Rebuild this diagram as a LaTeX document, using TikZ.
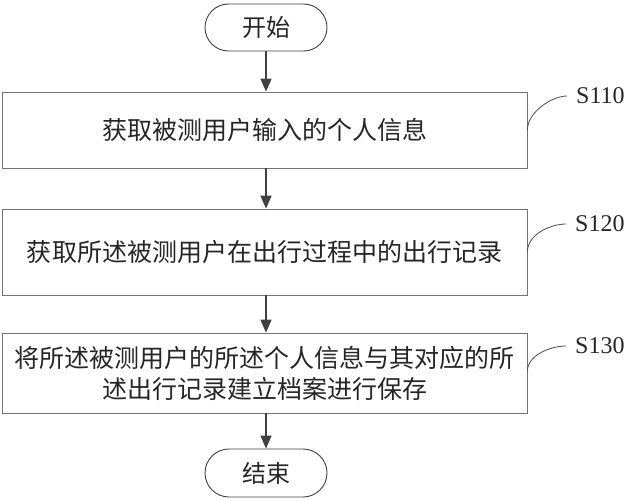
\documentclass[tikz,border=0pt]{standalone}
\usepackage{fontspec}
\setmainfont{Liberation Serif}
\newfontfamily\cjk{Noto Sans CJK SC}
\usetikzlibrary{arrows.meta,shapes.misc}
\begin{document}
\begin{tikzpicture}[x=1pt,y=-1pt,
  line/.style={draw=black!75,line width=0.9pt},
  term/.style={line,rounded rectangle,minimum width=122pt,minimum height=47pt,inner sep=0pt,font=\cjk\fontsize{24}{28}\selectfont,text=black!85},
  stepbox/.style={draw=black!55,line width=0.8pt,rectangle,minimum width=525pt,inner sep=0pt,font=\cjk\fontsize{25}{31}\selectfont,text=black!85,align=center},
  flow/.style={draw=black!75,line width=1.4pt,-{Triangle[length=13pt,width=11pt]}},
  tag/.style={font=\fontsize{24}{26}\selectfont,text=black!85,anchor=west,inner sep=0pt},
  hook/.style={draw=black!70,line width=0.8pt}]
\useasboundingbox (0,0) rectangle (631,500);
\node[term] (start) at (266,27.5) {开始};
\node[stepbox,minimum height=76pt] (b1) at (264.5,130) {获取被测用户输入的个人信息};
\node[stepbox,minimum height=86pt] (b2) at (264.5,252) {获取所述被测用户在出行过程中的出行记录};
\node[stepbox,minimum height=80pt] (b3) at (264.5,373) {将所述被测用户的所述个人信息与其对应的所\\述出行记录建立档案进行保存};
\node[term,minimum height=48pt] (end) at (266,473) {结束};
\draw[flow] (start.south) -- (start.south |- b1.north);
\draw[flow] (start.south |- b1.south) -- (start.south |- b2.north);
\draw[flow] (start.south |- b2.south) -- (start.south |- b3.north);
\draw[flow] (start.south |- b3.south) -- (end.north);
\node[tag] (t1) at (576,96) {S110};
\node[tag] (t2) at (575,224) {S120};
\node[tag] (t3) at (575,346) {S130};
\coordinate (c1) at (b1.east);
\coordinate (c2) at (b2.east);
\coordinate (c3) at ([yshift=2pt]b3.east);
\draw[hook] (c1) .. controls ([yshift=18pt]c1) and ([xshift=-24pt]t1.west) .. ([xshift=-9pt]t1.west);
\draw[hook] (c2) .. controls ([yshift=18pt]c2) and ([xshift=-24pt]t2.west) .. ([xshift=-9pt]t2.west);
\draw[hook] (c3) .. controls ([yshift=16pt]c3) and ([xshift=-24pt]t3.west) .. ([xshift=-9pt]t3.west);
\end{tikzpicture}
\end{document}
